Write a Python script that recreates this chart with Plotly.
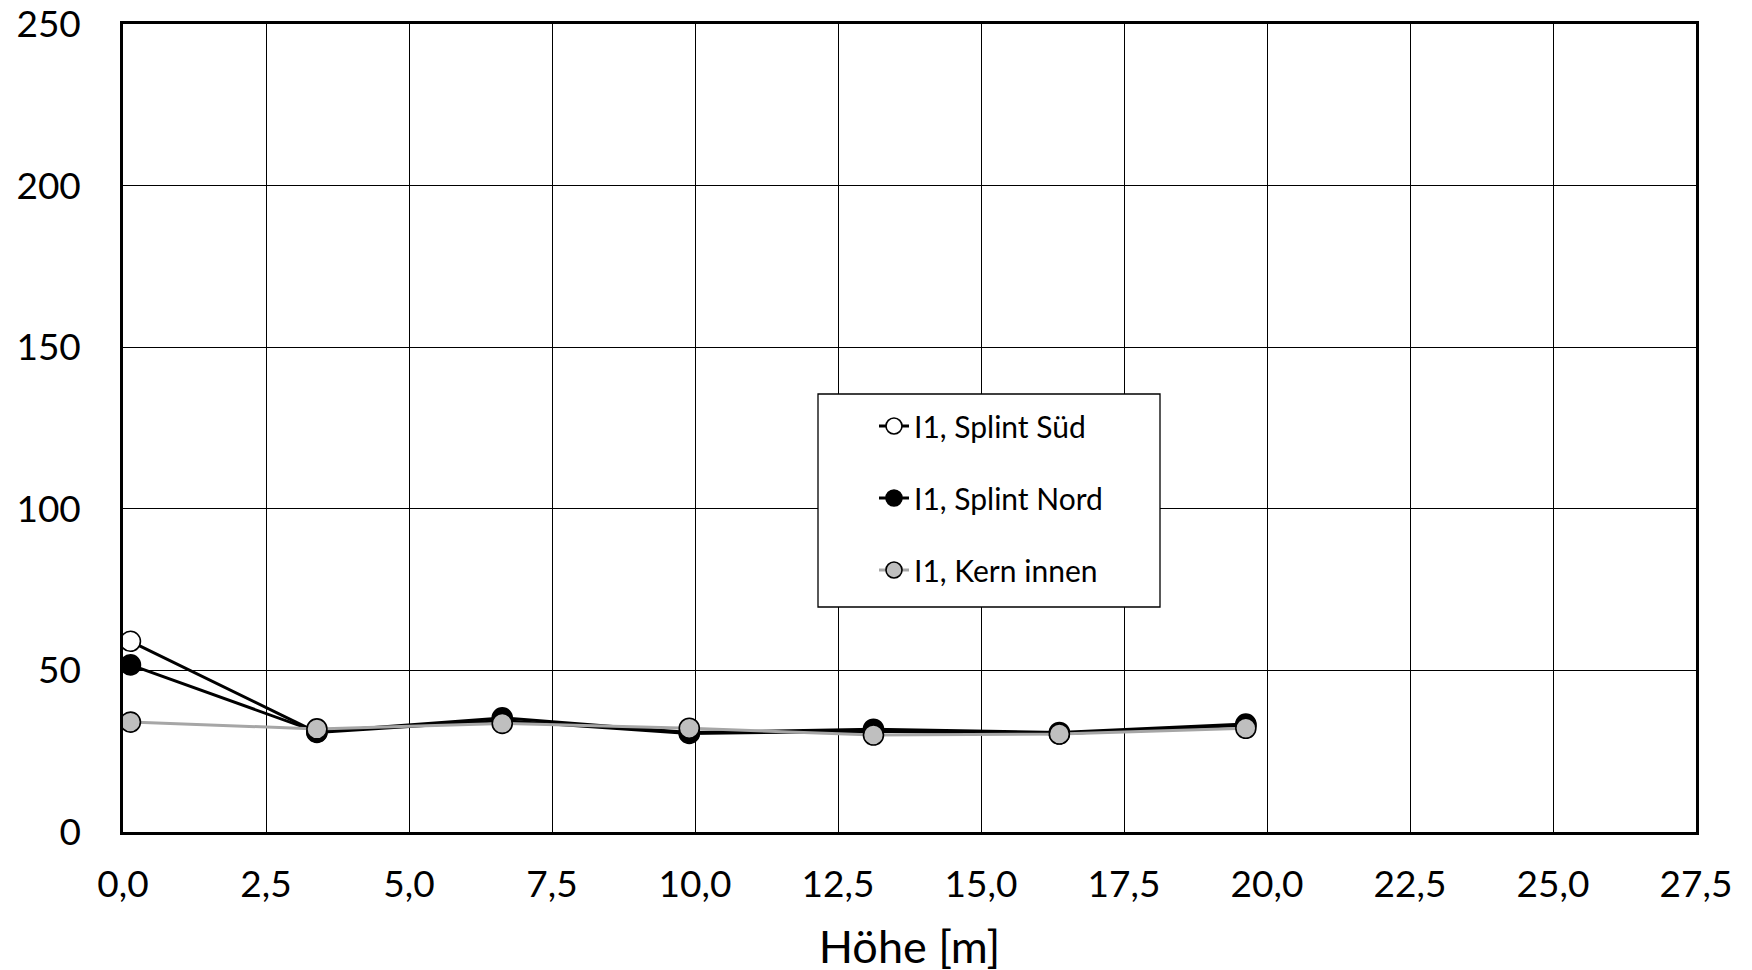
import plotly.graph_objects as go

hoehe = [0.13, 3.39, 6.63, 9.90, 13.12, 16.37, 19.63]
splint_sued = [59.0, 30.8, 34.5, 30.5, 31.2, 30.4, 33.0]
splint_nord = [51.7, 31.0, 35.3, 30.8, 31.8, 30.8, 33.4]
kern_innen = [34.0, 31.9, 33.6, 32.1, 30.0, 30.3, 32.1]

names = ["I1, Splint Süd", "I1, Splint Nord", "I1, Kern innen"]
x_ticks = [0, 2.5, 5, 7.5, 10, 12.5, 15, 17.5, 20, 22.5, 25, 27.5]
y_ticks = [0, 50, 100, 150, 200, 250]

FONT = "Lato"

fig = go.Figure()
styles = [
    dict(line_color="black", fill="white"),
    dict(line_color="black", fill="black"),
    dict(line_color="#A6A6A6", fill="#BFBFBF"),
]
for i, (name, ys, st) in enumerate(zip(names, [splint_sued, splint_nord, kern_innen], styles)):
    fig.add_trace(go.Scatter(
        x=hoehe, y=ys, name=name, mode="lines+markers",
        legendgroup=f"g{i}",
        line=dict(color=st["line_color"], width=3),
        marker=dict(size=20, color=st["fill"], line=dict(color="black", width=1.6)),
    ))

# legend frame
fig.add_shape(type="rect", xref="paper", yref="paper",
              x0=(818 - 123) / 1573, x1=(1160 - 123) / 1573,
              y0=(832 - 607) / 808, y1=(832 - 394) / 808,
              line=dict(color="black", width=1.3), fillcolor="white", layer="above")

fig.update_layout(
    width=1752, height=970,
    margin=dict(l=115, r=64, t=16, b=146, autoexpand=False),
    paper_bgcolor="white", plot_bgcolor="white",
    separators=",.",
    font=dict(family=FONT, color="black", size=37),
    showlegend=True,
    legend=dict(
        x=(874 - 123) / 1573, y=(832 - 400) / 808, xanchor="left", yanchor="top",
        bgcolor="rgba(0,0,0,0)", borderwidth=0,
        font=dict(family=FONT, size=30, color="black"),
        tracegroupgap=30, traceorder="grouped",
    ),
    xaxis=dict(
        range=[0, 27.5], tickvals=x_ticks, tickformat=".1f",
        showgrid=True, gridcolor="black", gridwidth=1.3,
        showline=True, linecolor="black", linewidth=2.5, mirror=True,
        zeroline=False, ticks="", ticklabelstandoff=18, automargin=False,
        ticklabeloverflow="allow",
        title=dict(text="Höhe [m]", font=dict(size=45, family=FONT), standoff=28),
        tickfont=dict(size=37, family=FONT),
    ),
    yaxis=dict(
        range=[0, 250], tickvals=y_ticks,
        showgrid=True, gridcolor="black", gridwidth=1.3,
        showline=True, linecolor="black", linewidth=2.5, mirror=True,
        zeroline=False, ticks="", ticklabelstandoff=32, automargin=False,
        ticklabeloverflow="allow",
        tickfont=dict(size=37, family=FONT),
    ),
)

fig.write_html("out.html")
